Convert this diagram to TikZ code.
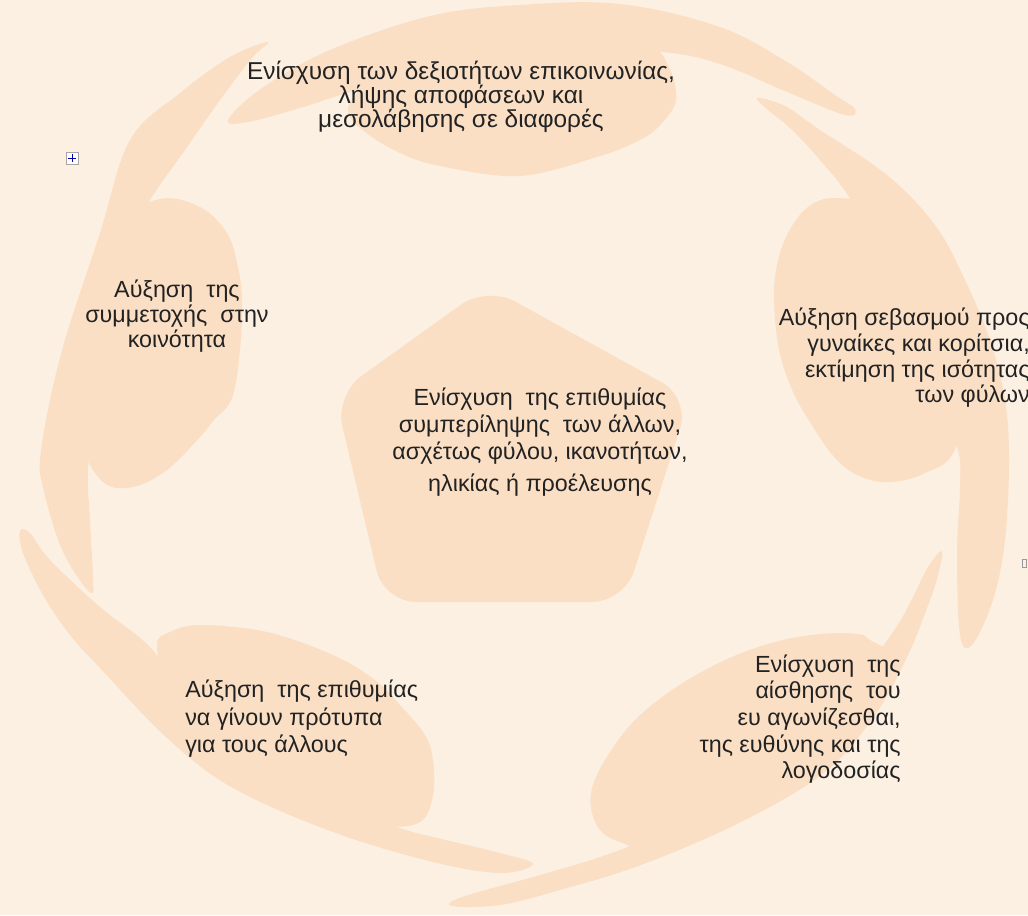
\documentclass[tikz,border=0pt]{standalone}
\usepackage{fontspec}
\setmainfont{Liberation Sans}
\definecolor{bgc}{RGB}{252,240,226}
\definecolor{petal}{RGB}{250,223,197}
\definecolor{txt}{RGB}{34,34,34}
\begin{document}
\begin{tikzpicture}[x=0.75pt,y=-0.75pt,
  petalfill/.style={fill=petal,draw=none},
  lbl/.style={text=txt, inner sep=0pt}]
\useasboundingbox (0,0) rectangle (1028,915);
\fill[bgc] (0,0) rectangle (1028,915);

% ---------- top petal ----------
\fill[petalfill] plot[smooth cycle, tension=0.6] coordinates {(228,120) (262,88) (330,50) (430,16) (520,5) (620,4) (720,27) (787,62) (835,95) (855,109) (845,115) (787,92) (720,64) (660,52) (560,52) (450,64) (363,88) (300,108) (248,122)};
\fill[petalfill] plot[smooth cycle, tension=0.6] coordinates {(348,112) (365,132) (400,153) (440,166) (520,176) (600,156) (640,140) (660,125) (676,100) (668,65) (645,45) (560,35) (450,42) (385,70) (358,92)};

% ---------- right petal ----------
\fill[petalfill] plot[smooth cycle, tension=0.6] coordinates {(757,98) (785,106) (820,130) (887,175) (935,225) (965,280) (990,340) (1005,400) (1009,460) (1005,540) (993,600) (972,645) (960,635) (957,553) (960,487) (957,447) (930,400) (905,330) (880,260) (851,200) (820,160) (790,128) (768,110)};
\fill[petalfill] plot[smooth cycle, tension=0.6] coordinates {(835,198) (808,207) (788,233) (777,265) (774,300) (779,350) (793,392) (810,422) (830,452) (850,471) (875,481) (900,481) (925,473) (952,455) (968,400) (958,320) (925,250) (880,208)};

% ---------- bottom-right petal ----------
\fill[petalfill] plot[smooth cycle, tension=0.6] coordinates {(942,551) (938,575) (930,600) (908,655) (875,715) (825,772) (741,822) (641,865) (560,890) (500,905) (452,906) (462,897) (533,877) (600,857) (650,837) (720,800) (790,750) (850,690) (893,632) (910,603) (928,567)};
\fill[petalfill] plot[smooth cycle, tension=0.6] coordinates {(870,640) (858,634) (820,634) (775,642) (725,660) (675,688) (635,720) (608,755) (593,785) (591,808) (600,830) (620,842) (650,845) (740,815) (815,768) (865,712) (893,660)};

% ---------- bottom-left petal ----------
\fill[petalfill] plot[smooth cycle, tension=0.6] coordinates {(20,531) (23,553) (43,595) (70,635) (100,668) (167,738) (233,788) (333,832) (433,862) (500,873) (533,864) (500,853) (433,837) (400,828) (340,805) (260,760) (190,700) (150,647) (100,607) (50,560) (30,533)};
\fill[petalfill] plot[smooth cycle, tension=0.6] coordinates {(157,645) (170,632) (200,625) (267,632) (333,655) (375,680) (400,705) (425,735) (433,760) (433,795) (420,822) (380,825) (300,805) (220,755) (170,690)};

% ---------- left petal ----------
\fill[petalfill] plot[smooth cycle, tension=0.6] coordinates {(268,42) (230,57) (180,93) (130,140) (100,233) (67,333) (50,400) (40,460) (43,487) (57,537) (73,570) (91,593) (93,578) (90,520) (88,470) (95,400) (110,310) (130,240) (150,200) (185,150) (220,100) (252,58)};
\fill[petalfill] plot[smooth cycle, tension=0.6] coordinates {(160,199) (200,207) (227,233) (238,267) (242,300) (240,350) (232,398) (214,420) (200,437) (167,470) (133,487) (103,482) (80,440) (75,370) (88,290) (115,225)};

% ---------- centre pentagon ----------
\fill[petalfill, rounded corners=24] (487,286) -- (690,398) -- (624,602) -- (384,602) -- (335,395) -- cycle;

% ---------- texts ----------
\node[lbl, align=center, font=\fontsize{18.3}{18}\selectfont] (ttop) at (461,97)
  {Ενίσχυση των δεξιοτήτων επικοινωνίας,\\λήψης αποφάσεων και\\μεσολάβησης σε διαφορές};
\node[lbl, align=center, font=\fontsize{17.5}{18.75}\selectfont] (tleft) at (177,316)
  {Αύξηση\ \ της\\συμμετοχής\ \ στην\\κοινότητα};
\node[lbl, align=right, anchor=east, font=\fontsize{17.5}{19.3}\selectfont] (tright) at (1030,358)
  {Αύξηση σεβασμού προς\\γυναίκες και κορίτσια,\\εκτίμηση της ισότητας\\των φύλων};
\node[lbl, align=center, font=\fontsize{17.5}{20}\selectfont] (tcentre) at (540,442)
  {Ενίσχυση\ \ της επιθυμίας\\συμπερίληψης\ \ των άλλων,\\ασχέτως φύλου, ικανοτήτων,\\[4pt]ηλικίας ή προέλευσης};
\node[lbl, align=left, anchor=west, font=\fontsize{17.5}{20.6}\selectfont] (tbl) at (185,719)
  {Αύξηση\ \ της επιθυμίας\\να γίνουν πρότυπα\\για τους άλλους};
\node[lbl, align=right, anchor=east, font=\fontsize{17.5}{20}\selectfont] (tbr) at (901,719)
  {Ενίσχυση\ \ της\\αίσθησης\ \ του\\ευ αγωνίζεσθαι,\\της ευθύνης και της\\λογοδοσίας};

% ---------- small editor marks ----------
\node[draw=black!35, fill=white, minimum size=9pt, inner sep=0pt] (handle) at (72,158) {};
\draw[blue!70!black, line width=0.5pt] (handle.west) ++(2,0) -- ++(8,0);
\draw[blue!70!black, line width=0.5pt] (handle.north) ++(0,2) -- ++(0,8);
\node[draw=black!40, minimum width=3pt, minimum height=6pt, inner sep=0pt] (mark) at (1024,563) {};
\end{tikzpicture}
\end{document}
